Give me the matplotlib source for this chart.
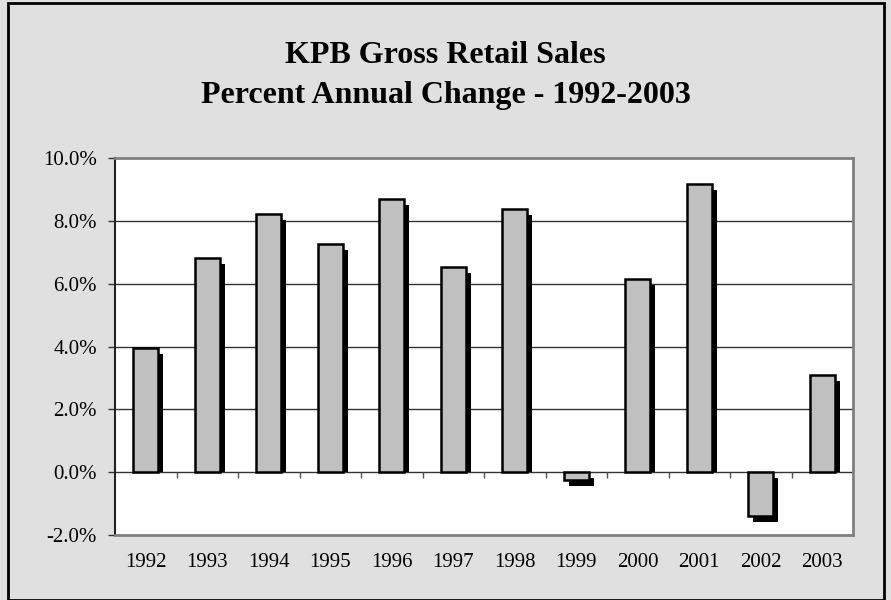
import matplotlib
matplotlib.use("Agg")
import matplotlib.pyplot as plt
from matplotlib.patches import Rectangle
from matplotlib.ticker import FuncFormatter

# Chart data
years = ["1992", "1993", "1994", "1995", "1996", "1997",
         "1998", "1999", "2000", "2001", "2002", "2003"]
pct_change = [3.95, 6.82, 8.22, 7.25, 8.68, 6.52,
              8.37, -0.25, 6.15, 9.17, -1.40, 3.09]
y_ticks = [-2, 0, 2, 4, 6, 8, 10]

title_line1 = "KPB Gross Retail Sales"
title_line2 = "Percent Annual Change - 1992-2003"

plt.rcParams['font.family'] = ['Liberation Serif', 'DejaVu Serif']

fig = plt.figure(figsize=(8.91, 6), dpi=100)
fig.patch.set_facecolor('#e0e0e0')

# outer frame of the chart
fig.patches.append(Rectangle((8 / 891, 0.0), 876 / 891, 597 / 600,
                             transform=fig.transFigure, fill=False,
                             edgecolor='black', linewidth=2, zorder=10))

ax = fig.add_axes([115 / 891, 65 / 600, 738 / 891, 377 / 600])
ax.set_facecolor('white')

x = list(range(len(years)))
bar_w = 0.41
dx = 0.08   # shadow shift right
dy = 0.19   # shadow shift down

# shadows first, then the gray bars on top
for xi, v in zip(x, pct_change):
    if v >= 0:
        ax.bar(xi + dx, v - dy, bottom=0, width=bar_w, color='black',
               linewidth=0, zorder=2)
    else:
        ax.bar(xi + dx, v, bottom=-dy, width=bar_w, color='black',
               linewidth=0, zorder=2)

ax.bar(x, pct_change, width=bar_w, color='#c0c0c0', edgecolor='black',
       linewidth=1.8, zorder=3)

# gridlines
for t in y_ticks[1:-1]:
    ax.axhline(t, color='#333333', linewidth=1, zorder=1)

# small tick marks on the zero line between categories
bounds = [i + 0.5 for i in range(len(years) - 1)]
ax.vlines(bounds, 0, -0.18, color='#555555', linewidth=1, zorder=1)

ax.set_xlim(-0.5, len(years) - 0.5)
ax.set_ylim(-2, 10)
ax.set_yticks(y_ticks)
ax.yaxis.set_major_formatter(FuncFormatter(lambda v, p: f"{v:.1f}%"))
ax.set_xticks(x)
ax.set_xticklabels(years)
ax.tick_params(axis='x', length=0, pad=13, labelsize=15)
ax.tick_params(axis='y', length=5, width=1, color='#333333',
               direction='out', pad=8, labelsize=15)

for s in ax.spines.values():
    s.set_color('#808080')
    s.set_linewidth(2)
ax.spines['left'].set_color('#222222')
ax.spines['left'].set_linewidth(1.5)

fig.text(0.5, 1 - 63 / 600, title_line1, ha='center', va='baseline',
         fontsize=23, fontweight='bold')
fig.text(0.5, 1 - 103 / 600, title_line2, ha='center', va='baseline',
         fontsize=23, fontweight='bold')

fig.savefig("out.png", dpi=100, facecolor=fig.get_facecolor())
